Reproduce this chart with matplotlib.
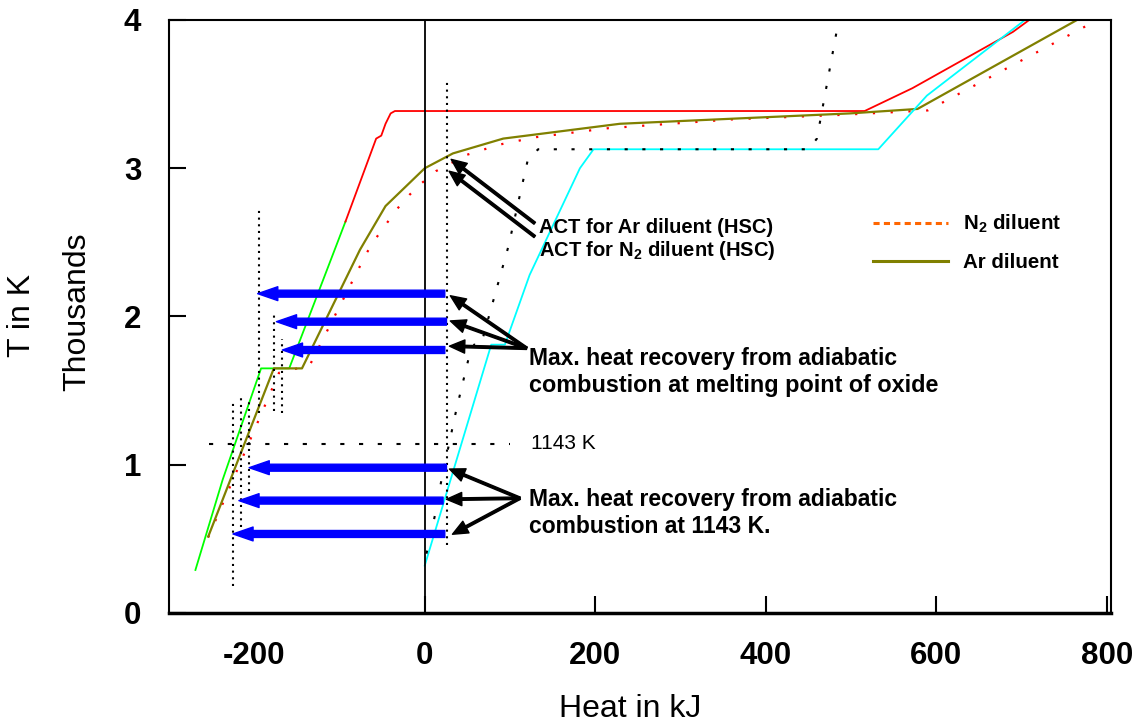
import numpy as np
import matplotlib
matplotlib.use("Agg")
import matplotlib.pyplot as plt
from matplotlib.lines import Line2D

plt.rcParams['font.family'] = ['Liberation Sans', 'DejaVu Sans']
plt.rcParams['axes.unicode_minus'] = False
plt.rcParams['mathtext.fontset'] = 'custom'
plt.rcParams['mathtext.rm'] = 'Liberation Sans'
plt.rcParams['mathtext.bf'] = 'Liberation Sans:bold'

# Heat (kJ) vs temperature (thousands of K)
x_green = [-269, -237, -192, -159, -93]
T_green = [0.29, 0.90, 1.65, 1.65, 2.64]
x_red = [-93, -57, -51, -46, -40, -35, 516, 572, 690, 709]
T_red = [2.64, 3.20, 3.22, 3.30, 3.37, 3.386, 3.386, 3.54, 3.92, 4.0]
x_ar = [-254, -177, -144, -76, -46, 0, 33, 92, 229, 499, 578, 765]
T_ar = [0.515, 1.65, 1.65, 2.45, 2.745, 3.0, 3.10, 3.20, 3.30, 3.37, 3.40, 4.0]
x_n2 = [-254, -171, -135, -68, -57, -32.5, -18, -3.5, 13, 49, 88, 131, 215, 362, 488, 590, 789]
T_n2 = [0.51, 1.62, 1.67, 2.43, 2.53, 2.725, 2.82, 2.90, 2.98, 3.09, 3.16, 3.21, 3.27, 3.33, 3.36, 3.39, 4.0]
x_cyan = [0, 78, 94, 123, 182, 198, 532, 589, 704]
T_cyan = [0.32, 1.81, 1.81, 2.28, 3.0, 3.128, 3.128, 3.49, 4.0]
x_dot = [2, 12, 20, 37, 52, 58, 66, 98, 121, 133, 450, 460, 484]
T_dot = [0.40, 0.66, 0.91, 1.37, 1.73, 1.81, 1.81, 2.47, 3.06, 3.128, 3.128, 3.20, 3.95]

# vertical dotted guide lines
v_x = [26, -194, -177, -167, -225, -215, -206]
v_lo = [0.46, 1.35, 1.36, 1.35, 0.18, 0.58, 0.82]
v_hi = [3.6, 2.72, 2.03, 1.85, 1.44, 1.46, 1.43]
T_1143 = 1.143
x_1143 = [-253, 100]

# blue heat recovery arrows: start x, end x, T
blue_start = [23.5, 25.5, 23.5, 25.5, 21.5, 23.5]
blue_end = [-196, -174, -167, -206, -218, -225]
blue_T = [2.154, 1.965, 1.774, 0.980, 0.758, 0.533]

xticks = [-200, 0, 200, 400, 600, 800]
yticks = [0, 1, 2, 3, 4]

fig = plt.figure(figsize=(11.38, 7.22), dpi=100)
ax = fig.add_axes([0.1485, 0.151, 0.8278, 0.8213])

ax.plot(x_green, T_green, color='#00FF00', lw=1.3)
ax.plot(x_red, T_red, color='#FF0000', lw=1.3)
ax.plot(x_n2, T_n2, color='#FF0000', lw=1.6, ls=(0, (1, 7)))
ax.plot(x_ar, T_ar, color='#808000', lw=1.6)
ax.plot(x_cyan, T_cyan, color='#00FFFF', lw=1.3)
ax.plot(x_dot, T_dot, color='k', lw=1.5, ls=(0, (1.5, 7)), zorder=3)

ax.vlines(v_x, v_lo, v_hi, colors='k', lw=1.5, linestyles=[(0, (1, 2.2))])
ax.hlines(T_1143, x_1143[0], x_1143[1], colors='k', lw=1.5, linestyles=[(0, (2, 7))])
ax.axvline(0, color='k', lw=1.3)

for xs, xe, t in zip(blue_start, blue_end, blue_T):
    ax.annotate('', xy=(xe, t), xytext=(xs, t),
                arrowprops=dict(arrowstyle='simple,head_length=1.45,head_width=1.0,tail_width=0.5',
                                mutation_scale=10, color='#0000FF', shrinkA=0, shrinkB=0))

black_arrow = dict(arrowstyle='simple,head_length=1.1,head_width=0.95,tail_width=0.18',
                   mutation_scale=10, color='k', shrinkA=0, shrinkB=0)
ax.annotate('', xy=(31, 3.06), xytext=(129, 2.629), arrowprops=black_arrow)
ax.annotate('', xy=(28.6, 2.98), xytext=(129, 2.539), arrowprops=black_arrow)
for tip in [(30, 2.14), (30, 1.97), (29, 1.80)]:
    ax.annotate('', xy=tip, xytext=(119.4, 1.786), arrowprops=black_arrow)
for tip in [(29, 0.971), (25.5, 0.767), (32.5, 0.531)]:
    ax.annotate('', xy=tip, xytext=(111.5, 0.774), arrowprops=black_arrow)

ax.text(133.8, 2.563, 'ACT for Ar diluent (HSC)', fontsize=14.5, fontweight='bold', va='baseline')
ax.text(133.8, 2.405, r'ACT for N$_\mathbf{2}$ diluent (HSC)', fontsize=14.5, fontweight='bold', va='baseline')
ax.text(122, 1.673, 'Max. heat recovery from adiabatic', fontsize=16.5, fontweight='bold', va='baseline')
ax.text(122, 1.491, 'combustion at melting point of oxide', fontsize=16.8, fontweight='bold', va='baseline')
ax.text(122, 0.722, 'Max. heat recovery from adiabatic', fontsize=16.5, fontweight='bold', va='baseline')
ax.text(122, 0.540, 'combustion at 1143 K.', fontsize=16.5, fontweight='bold', va='baseline')
ax.text(125, T_1143, '1143 K', fontsize=15, va='center')

handles = [Line2D([], [], color='#FF6600', lw=2.2, ls=(0, (2, 1.4))),
           Line2D([], [], color='#808000', lw=2.2)]
leg = ax.legend(handles, [r'N$_\mathbf{2}$ diluent', 'Ar diluent'], loc='upper left',
                bbox_to_anchor=(0.7473, 0.675), frameon=False, borderpad=0, borderaxespad=0,
                handlelength=3.65, handletextpad=0.75, labelspacing=0.85,
                prop={'size': 14.8, 'weight': 'bold'})

ax.set_xlim(-300, 805)
ax.set_ylim(0, 4)
ax.set_xticks(xticks)
ax.set_xticklabels([str(v) for v in xticks], fontweight='bold')
ax.set_yticks(yticks)
ax.set_yticklabels([str(v) for v in yticks], fontweight='bold')
ax.tick_params(axis='both', direction='in', length=12, width=1.5, labelsize=22.5, pad=20)
ax.xaxis.get_major_ticks()[0].tick1line.set_visible(False)
for side in ['left', 'top', 'right']:
    ax.spines[side].set_linewidth(1.5)
ax.spines['bottom'].set_linewidth(2.5)

fig.text(630 / 1138, 1 - 716.7 / 722, 'Heat in kJ', fontsize=23, ha='center', va='baseline')
fig.text(22 / 1138, 1 - 315 / 722, 'T in K', fontsize=23, rotation=90, ha='center', va='center')
fig.text(77 / 1138, 1 - 312 / 722, 'Thousands', fontsize=23, rotation=90, ha='center', va='center')

fig.savefig('out.png', dpi=100)
plt.close('all')
